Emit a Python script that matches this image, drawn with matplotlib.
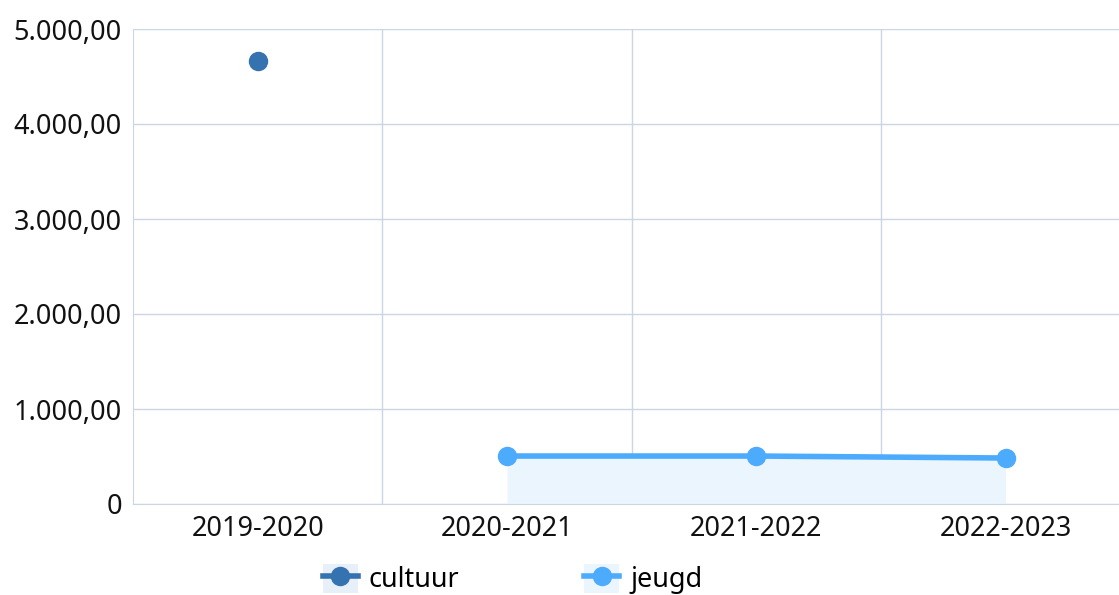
import matplotlib.pyplot as plt
from matplotlib.patches import Patch
from matplotlib.lines import Line2D
from matplotlib.legend_handler import HandlerTuple
from matplotlib.ticker import FuncFormatter

seasons = ['2019-2020', '2020-2021', '2021-2022', '2022-2023']
cultuur = [4663, None, None, None]
jeugd = [None, 505, 505, 484]

cultuur_color = '#3572b0'
jeugd_color = '#4dabfd'

plt.rcParams['font.family'] = ['Noto Sans', 'DejaVu Sans']


def nl_format(v, pos):
    if v == 0:
        return '0'
    s = '{:,.2f}'.format(v)
    return s.replace(',', 'X').replace('.', ',').replace('X', '.')


fig = plt.figure(figsize=(11.19, 5.95), dpi=100)
ax = fig.add_axes([133 / 1119, 1 - 504 / 595, (1119 - 133) / 1119, 475 / 595])

x = list(range(len(seasons)))
cx = [i for i, v in zip(x, cultuur) if v is not None]
cy = [v for v in cultuur if v is not None]
jx = [i for i, v in zip(x, jeugd) if v is not None]
jy = [v for v in jeugd if v is not None]

ax.fill_between(jx, jy, 0, color='#eaf5fe', zorder=1, linewidth=0)
ax.plot(cx, cy, color=cultuur_color, linewidth=4, marker='o', markersize=13, zorder=3)
ax.plot(jx, jy, color=jeugd_color, linewidth=4, marker='o', markersize=13, zorder=3)

band = 249.3
ax.set_xlim(-0.5, -0.5 + (1119 - 133) / band)
ax.set_ylim(0, 5000)
ax.set_xticks(x)
ax.set_xticklabels(seasons)
ax.set_yticks([0, 1000, 2000, 3000, 4000, 5000])
ax.yaxis.set_major_formatter(FuncFormatter(nl_format))

ax.set_xticks([0.5, 1.5, 2.5], minor=True)
ax.grid(True, axis='y', color='#ccd6e3', linewidth=1)
ax.grid(True, axis='x', which='minor', color='#ccd6e3', linewidth=1)
ax.set_axisbelow(True)
for side in ['top', 'right']:
    ax.spines[side].set_visible(False)
for side in ['left', 'bottom']:
    ax.spines[side].set_color('#ccd6e3')
ax.tick_params(axis='both', which='both', length=0, labelsize=19.5, colors='#111111')
ax.tick_params(axis='x', pad=8)
ax.tick_params(axis='y', pad=8)

handles = [
    (Patch(facecolor='#e7eff8', edgecolor='none'),
     Line2D([], [], color=cultuur_color, linewidth=4, marker='o', markersize=13)),
    (Patch(facecolor='#eaf5fe', edgecolor='none'),
     Line2D([], [], color=jeugd_color, linewidth=4, marker='o', markersize=13)),
]
fig.legend(handles, ['cultuur', 'jeugd'], loc='lower center', bbox_to_anchor=(0.458, -0.04),
           ncol=2, frameon=False, fontsize=19.5, handlelength=1.3, handleheight=1.3,
           columnspacing=4.6, handletextpad=0.4,
           handler_map={tuple: HandlerTuple(ndivide=1, pad=0)})

fig.savefig('out.png', dpi=100)
